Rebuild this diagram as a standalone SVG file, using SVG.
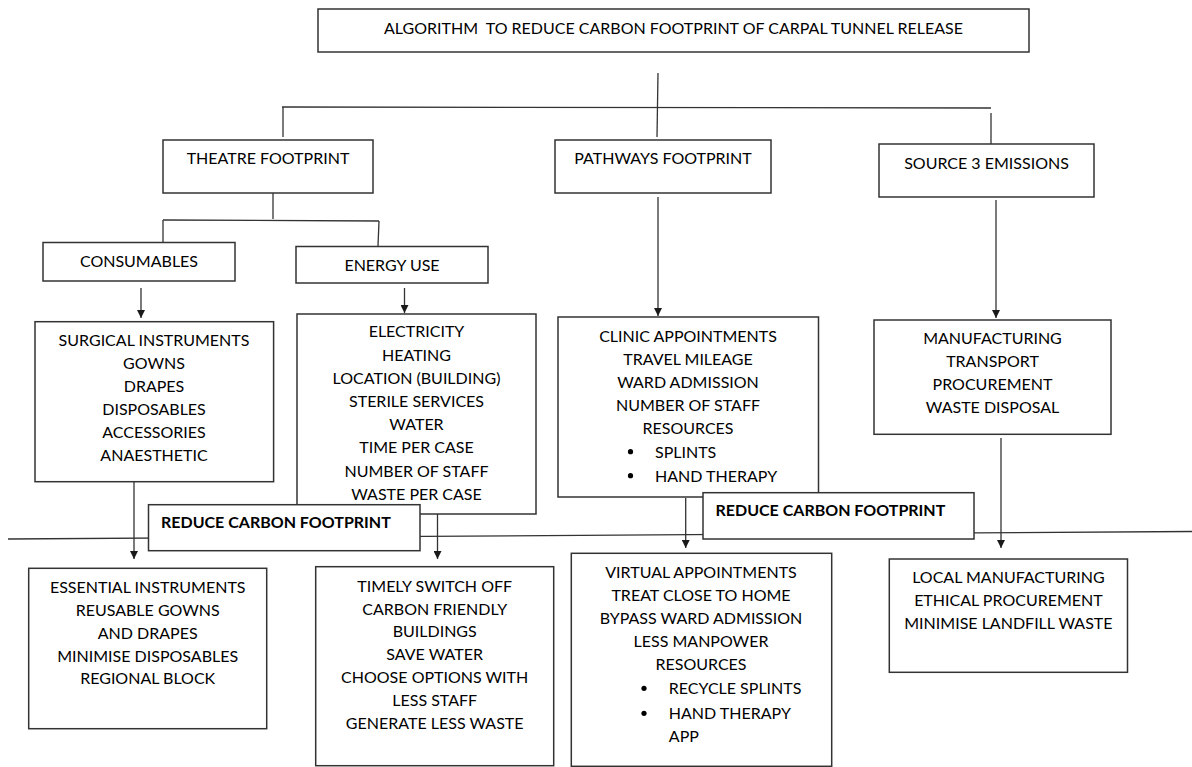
<svg xmlns="http://www.w3.org/2000/svg" width="1192" height="767" viewBox="0 0 1192 767">
<style>
.box{fill:#fff;stroke:#333;stroke-width:1.5}
.ln{fill:none;stroke:#333;stroke-width:1.3}
.t{font-family:Lato,"Open Sans","Liberation Sans",sans-serif;font-size:16px;fill:#000;text-anchor:middle}
.l{text-anchor:start}
.b{font-weight:bold;text-anchor:start}
.pre{white-space:pre}
.dot{fill:#000}
</style>
<defs>
<marker id="ah" viewBox="0 0 8 8" refX="8" refY="4" markerWidth="8" markerHeight="8" markerUnits="userSpaceOnUse" orient="auto">
<path d="M0,0 L8,4 L0,8 Z" fill="#1a1a1a"/>
</marker>
</defs>
<rect width="1192" height="767" fill="#fff"/>
<g id="connectors">
<line class="ln" x1="658" y1="73" x2="657" y2="137"/>
<line class="ln" x1="282" y1="107" x2="991" y2="108"/>
<line class="ln" x1="283" y1="107" x2="283" y2="137"/>
<line class="ln" x1="991" y1="113" x2="991" y2="144"/>
<line class="ln" x1="273" y1="193" x2="273" y2="219"/>
<line class="ln" x1="163" y1="220" x2="379" y2="221"/>
<line class="ln" x1="163" y1="220" x2="163" y2="242"/>
<line class="ln" x1="379" y1="221" x2="378" y2="246"/>
<line class="ln" x1="141" y1="288" x2="141" y2="318" marker-end="url(#ah)"/>
<line class="ln" x1="404.5" y1="288" x2="404.5" y2="313" marker-end="url(#ah)"/>
<line class="ln" x1="658" y1="197" x2="658" y2="316" marker-end="url(#ah)"/>
<line class="ln" x1="996" y1="200" x2="996" y2="318" marker-end="url(#ah)"/>
<line class="ln" x1="8" y1="539" x2="1192" y2="531.5"/>
<line class="ln" x1="134" y1="482" x2="134" y2="559" marker-end="url(#ah)"/>
<line class="ln" x1="437.5" y1="514" x2="437.5" y2="559" marker-end="url(#ah)"/>
<line class="ln" x1="685.7" y1="498" x2="685.7" y2="548" marker-end="url(#ah)"/>
<line class="ln" x1="1001" y1="438" x2="1001" y2="548" marker-end="url(#ah)"/>
</g>
<g id="title">
<rect class="box" x="318" y="9" width="711" height="43"/>
<text class="t pre" x="673.5" y="33.5">ALGORITHM  TO REDUCE CARBON FOOTPRINT OF CARPAL TUNNEL RELEASE</text>
</g>
<g id="theatre">
<rect class="box" x="163" y="140" width="210" height="53"/>
<text class="t" x="268" y="164">THEATRE FOOTPRINT</text>
</g>
<g id="pathways">
<rect class="box" x="555" y="140" width="216" height="53"/>
<text class="t" x="663" y="164">PATHWAYS FOOTPRINT</text>
</g>
<g id="source3">
<rect class="box" x="879" y="144" width="215" height="53"/>
<text class="t" x="986.5" y="169">SOURCE 3 EMISSIONS</text>
</g>
<g id="consumables">
<rect class="box" x="43" y="242.5" width="192" height="38.5"/>
<text class="t" x="139" y="266.5">CONSUMABLES</text>
</g>
<g id="energy">
<rect class="box" x="296" y="246.5" width="192" height="36.5"/>
<text class="t" x="392" y="270.7">ENERGY USE</text>
</g>
<g id="consumables-list">
<rect class="box" x="35" y="321.7" width="238.6" height="160"/>
<text class="t" x="154" y="346">SURGICAL INSTRUMENTS</text>
<text class="t" x="154" y="369">GOWNS</text>
<text class="t" x="154" y="391.8">DRAPES</text>
<text class="t" x="154" y="414.7">DISPOSABLES</text>
<text class="t" x="154" y="437.6">ACCESSORIES</text>
<text class="t" x="154" y="460.5">ANAESTHETIC</text>
</g>
<g id="energy-list">
<rect class="box" x="297" y="314" width="239" height="200"/>
<text class="t" x="416.5" y="337.3">ELECTRICITY</text>
<text class="t" x="416.5" y="360.5">HEATING</text>
<text class="t" x="416.5" y="383.7">LOCATION (BUILDING)</text>
<text class="t" x="416.5" y="406.9">STERILE SERVICES</text>
<text class="t" x="416.5" y="430.1">WATER</text>
<text class="t" x="416.5" y="453.3">TIME PER CASE</text>
<text class="t" x="416.5" y="476.5">NUMBER OF STAFF</text>
<text class="t" x="416.5" y="499.5">WASTE PER CASE</text>
</g>
<g id="pathways-list">
<rect class="box" x="558" y="317" width="260.5" height="180"/>
<text class="t" x="688" y="341.7">CLINIC APPOINTMENTS</text>
<text class="t" x="688" y="365">TRAVEL MILEAGE</text>
<text class="t" x="688" y="388">WARD ADMISSION</text>
<text class="t" x="688" y="411">NUMBER OF STAFF</text>
<text class="t" x="688" y="434">RESOURCES</text>
<circle class="dot" cx="630.5" cy="451.7" r="2.6"/>
<text class="t l" x="655" y="457.7">SPLINTS</text>
<circle class="dot" cx="630.5" cy="475.7" r="2.6"/>
<text class="t l" x="655" y="481.7">HAND THERAPY</text>
</g>
<g id="source3-list">
<rect class="box" x="874" y="320" width="237" height="114.3"/>
<text class="t" x="992.5" y="344.3">MANUFACTURING</text>
<text class="t" x="992.5" y="367.3">TRANSPORT</text>
<text class="t" x="992.5" y="390.3">PROCUREMENT</text>
<text class="t" x="992.5" y="413.3">WASTE DISPOSAL</text>
</g>
<g id="reduce-left">
<rect class="box" x="148.5" y="504.7" width="271.5" height="46"/>
<text class="t b" x="161" y="527.7">REDUCE CARBON FOOTPRINT</text>
</g>
<g id="reduce-right">
<rect class="box" x="703" y="492.7" width="271" height="46.3"/>
<text class="t b" x="715.5" y="516">REDUCE CARBON FOOTPRINT</text>
</g>
<g id="consumables-reduce">
<rect class="box" x="28.7" y="568.3" width="238" height="160.4"/>
<text class="t" x="147.7" y="592.7">ESSENTIAL INSTRUMENTS</text>
<text class="t" x="147.7" y="615.7">REUSABLE GOWNS</text>
<text class="t" x="147.7" y="638.5">AND DRAPES</text>
<text class="t" x="147.7" y="661.5">MINIMISE DISPOSABLES</text>
<text class="t" x="147.7" y="684.4">REGIONAL BLOCK</text>
</g>
<g id="energy-reduce">
<rect class="box" x="315.7" y="566.7" width="238" height="199"/>
<text class="t" x="434.7" y="591.7">TIMELY SWITCH OFF</text>
<text class="t" x="434.7" y="614.5">CARBON FRIENDLY</text>
<text class="t" x="434.7" y="637.3">BUILDINGS</text>
<text class="t" x="434.7" y="660.2">SAVE WATER</text>
<text class="t" x="434.7" y="683.1">CHOOSE OPTIONS WITH</text>
<text class="t" x="434.7" y="706">LESS STAFF</text>
<text class="t" x="434.7" y="729">GENERATE LESS WASTE</text>
</g>
<g id="pathways-reduce">
<rect class="box" x="571.3" y="553.3" width="260.4" height="213"/>
<text class="t" x="701" y="578.3">VIRTUAL APPOINTMENTS</text>
<text class="t" x="701" y="601.2">TREAT CLOSE TO HOME</text>
<text class="t" x="701" y="624.1">BYPASS WARD ADMISSION</text>
<text class="t" x="701" y="647">LESS MANPOWER</text>
<text class="t" x="701" y="670">RESOURCES</text>
<circle class="dot" cx="644" cy="688.3" r="2.6"/>
<text class="t l" x="668.8" y="694.3">RECYCLE SPLINTS</text>
<circle class="dot" cx="644" cy="713.3" r="2.6"/>
<text class="t l" x="668.8" y="719.3">HAND THERAPY</text>
<text class="t l" x="668.8" y="742">APP</text>
</g>
<g id="source3-reduce">
<rect class="box" x="889.3" y="559" width="238.2" height="113.3"/>
<text class="t" x="1008.4" y="582.7">LOCAL MANUFACTURING</text>
<text class="t" x="1008.4" y="605.8">ETHICAL PROCUREMENT</text>
<text class="t" x="1008.4" y="629.3">MINIMISE LANDFILL WASTE</text>
</g>
</svg>
